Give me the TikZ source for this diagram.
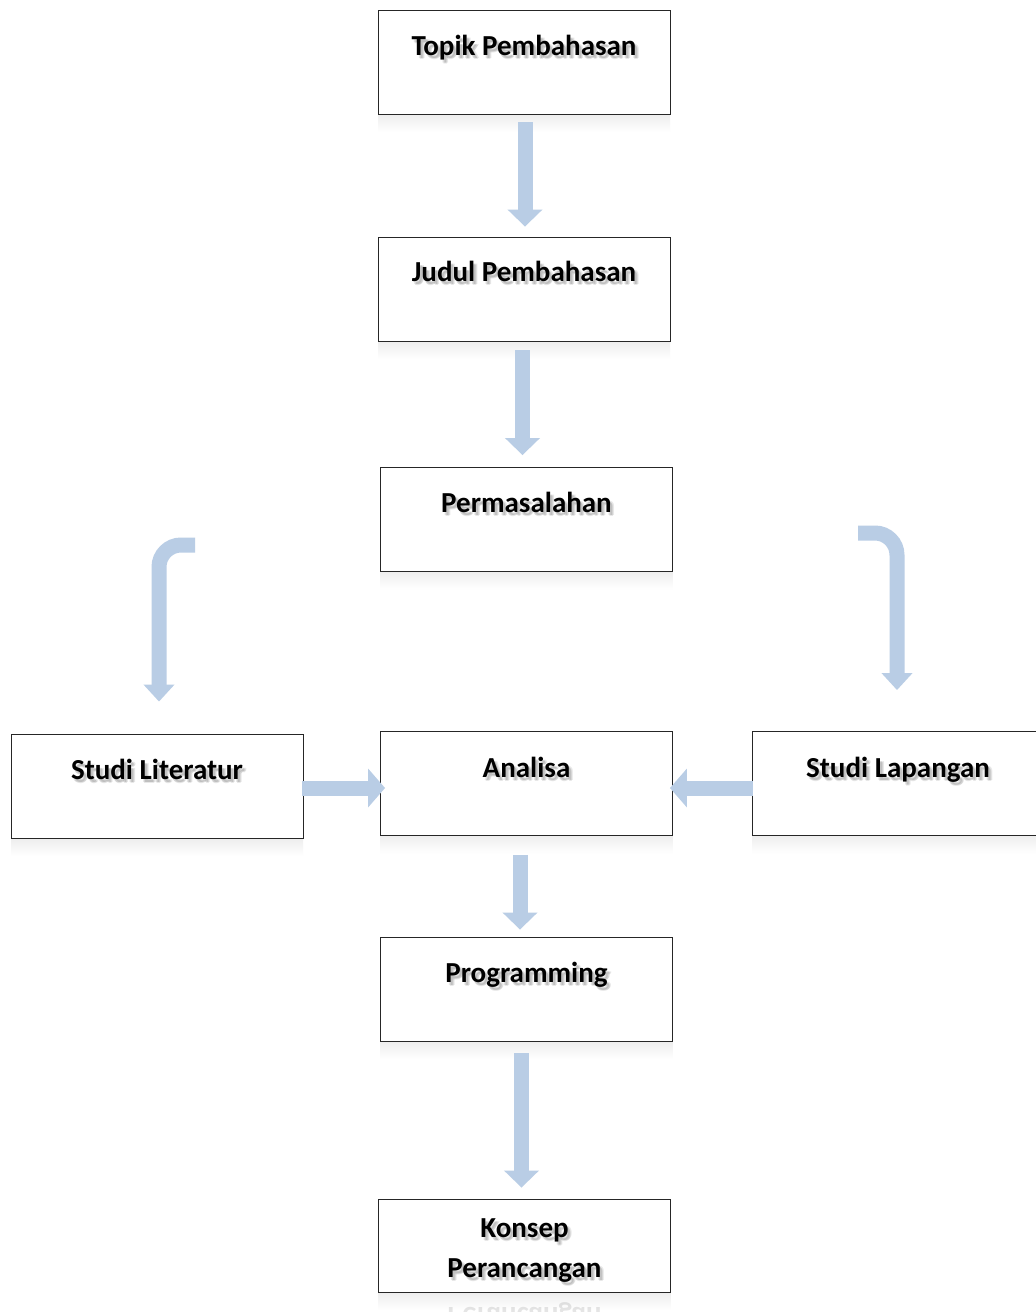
\documentclass[tikz,border=0pt]{standalone}
\usepackage{fontspec}
\setmainfont{Carlito}
\usetikzlibrary{arrows.meta,calc}
\definecolor{arrowblue}{RGB}{185,205,229}
\tikzset{
  x=1pt, y=-1pt,
  box/.style={draw=black!85, line width=0.9pt, fill=white, minimum width=292pt, minimum height=104pt, inner sep=0pt},
  txt/.style={font=\fontsize{29}{33}\selectfont\bfseries, anchor=base, inner sep=0pt},
  flow/.style={draw=arrowblue, line width=15pt, -{Triangle[width=34pt,length=17pt]}},
  hflow/.style={draw=arrowblue, line width=15pt, -{Triangle[width=38pt,length=17pt]}},
  bflow/.style={draw=arrowblue, line width=15pt, rounded corners=22pt, -{Triangle[width=30pt,length=17pt]}},
}
\newcommand\stext[3]{%
  \foreach \dx/\dy in {2/-3,3/-4,4/-3}
    \node[txt, text=black, opacity=0.09] at ($(#1)+(\dx pt,\dy pt)$) {#3};
  \node[txt] (#2) at (#1) {#3};}
\newcommand\refl[3]{%
  \shade[top color=black!7, bottom color=white] ($(#1)+(-146,#3/2)$) rectangle ($(#1)+(146,#3/2+18)$);}
\begin{document}
\begin{tikzpicture}
\useasboundingbox[fill=white] (0,0) rectangle (1036,1312);
% reflections under the boxes
\foreach \c/\h in {{524,62}/104,{524,289}/104,{526.5,519.5}/104,{157,786}/104,{526.5,783.5}/104,{898,783.5}/104,{526.5,989}/104,{524.5,1245.5}/93}
  {\shade[top color=black!7, bottom color=white] ($(\c)+(-146,\h/2)$) rectangle ($(\c)+(146,\h/2+18)$);}
% boxes
\node[box] (topikbox) at (524,62) {};
\node[box] (judulbox) at (524,289) {};
\node[box] (permbox) at (526.5,519.5) {};
\node[box] (litbox) at (157,786) {};
\node[box] (anabox) at (526.5,783.5) {};
\node[box] (lapbox) at (898,783.5) {};
\node[box] (progbox) at (526.5,989) {};
\node[box, minimum height=93pt] (konbox) at (524.5,1245.5) {};
% texts
\stext{524,55}{topik}{Topik Pembahasan}
\stext{524,281}{judul}{Judul Pembahasan}
\stext{526.5,512}{perm}{Permasalahan}
\stext{157,779}{lit}{Studi Literatur}
\stext{526.5,777}{ana}{Analisa}
\stext{898,777}{lap}{Studi Lapangan}
\stext{526.5,982}{prog}{Programming}
\stext{524.5,1237}{kon1}{Konsep}
\stext{524.5,1277}{kon2}{Perancangan}
\node[txt, opacity=0.10, yscale=-1, transform shape] (konrefl) at (524.5,1307) {Perancangan};
% arrows
\draw[flow] ($(topikbox.south)+(1,8)$) -- ($(judulbox.north)+(1,-10)$);
\draw[flow] ($(judulbox.south)+(-1.5,9)$) -- ($(permbox.north)+(-4,-12)$);
\draw[flow] ($(anabox.south)+(-6.5,19)$) -- ($(progbox.north)+(-6.5,-7)$);
\draw[flow] ($(progbox.south)+(-5,12)$) -- ($(konbox.north)+(-3,-11)$);
\draw[hflow] ($(litbox.east)+(-1,2)$) -- ($(anabox.west)+(5,4.5)$);
\draw[hflow] ($(lapbox.west)+(1,4.5)$) -- ($(anabox.east)+(-3,4.5)$);
\coordinate (lstart) at (195,545);
\coordinate (rstart) at (858,533);
\draw[bflow] (lstart) -| ($(litbox.north)+(2,-32)$);
\draw[bflow] (rstart) -| ($(lapbox.north)+(-1,-41)$);
\end{tikzpicture}
\end{document}
